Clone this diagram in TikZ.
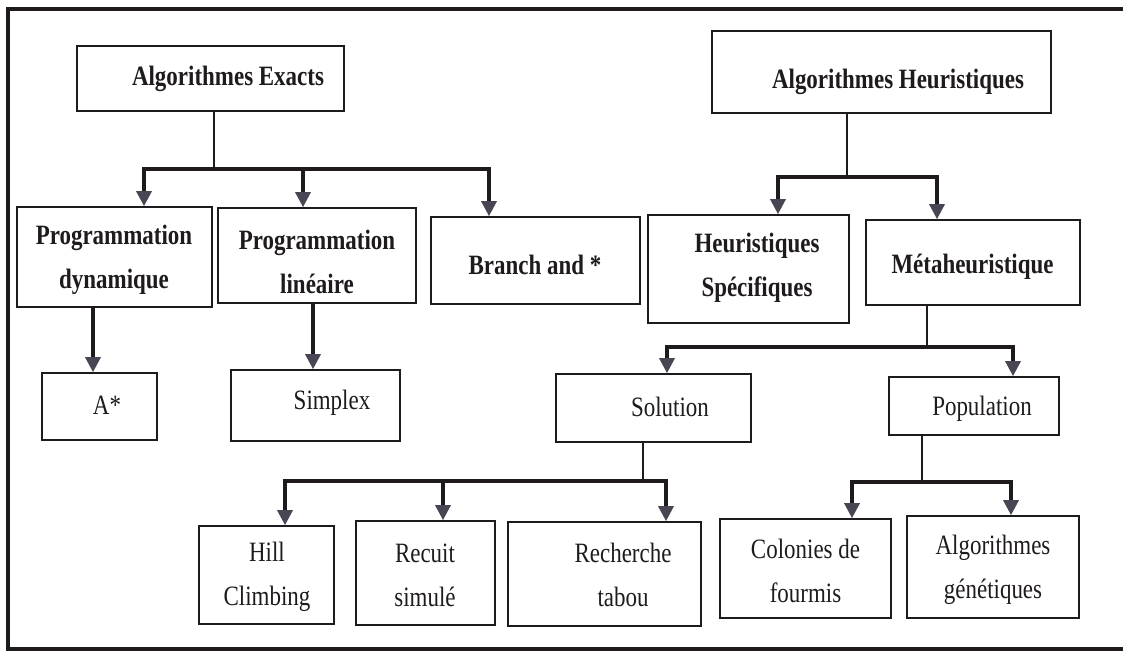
\documentclass[tikz,border=0pt]{standalone}
\usepackage{fontspec}
\setmainfont{Liberation Serif}[FakeStretch=0.82]
\usetikzlibrary{arrows.meta,fit}
\definecolor{ink}{HTML}{1E1A1E}
\definecolor{tipc}{HTML}{4A4552}
\begin{document}
\begin{tikzpicture}[x=0.5pt,y=-0.5pt]
\tikzset{
  box/.style={draw=ink, line width=0.8pt, inner sep=0pt, rectangle},
  lbl/.style={font=\fontsize{14}{22}\selectfont, align=center, inner sep=0pt, text=ink},
  blbl/.style={font=\bfseries\fontsize{14}{22}\selectfont, align=center, inner sep=0pt, text=ink},
  stem/.style={draw=ink, line width=1.3pt},
  arr/.style={draw=ink, line width=1.6pt, line join=miter, -{Triangle[width=7.5pt,length=7.5pt,color=tipc]}},
  frame/.style={draw=ink, line width=1.6pt}
}
\useasboundingbox (0,0) rectangle (1123,651);
% outer frame (open on the right)
\coordinate (fTR) at (1123,9);
\coordinate (fTL) at (8,9);
\coordinate (fBL) at (8,649);
\coordinate (fBR) at (1123,649);
\draw[frame] (fTR) -- (fTL) -- (fBL) -- (fBR);

% boxes
\node[box, fit={(77,46) (344,111)}] (exact) {};
\node[box, fit={(712,31) (1051,113)}] (heur) {};
\node[box, fit={(17,207) (212,307)}] (pdyn) {};
\node[box, fit={(218,208) (416,303)}] (plin) {};
\node[box, fit={(431,217) (640,304)}] (branch) {};
\node[box, fit={(648,215) (849,323)}] (hspec) {};
\node[box, fit={(866,220) (1080,305)}] (meta) {};
\node[box, fit={(42,373) (157,440)}] (astar) {};
\node[box, fit={(231,370) (400,441)}] (simplex) {};
\node[box, fit={(556,374) (751,442)}] (solution) {};
\node[box, fit={(889,377) (1059,435)}] (population) {};
\node[box, fit={(199,526) (334,624)}] (hill) {};
\node[box, fit={(356,521) (495,625)}] (recuit) {};
\node[box, fit={(508,522) (701,626)}] (tabou) {};
\node[box, fit={(720,519) (891,618)}] (colonies) {};
\node[box, fit={(907,516) (1079,618)}] (genet) {};

% labels
\node[blbl] (exact-t) at (228,79) {Algorithmes Exacts};
\node[blbl] (heur-t) at (898,82) {Algorithmes Heuristiques};
\node[blbl] (pdyn-t) at (114,260) {Programmation\\dynamique};
\node[blbl] (plin-t) at (317,261.5) {Programmation\\linéaire};
\node[blbl] (branch-t) at (535,265) {Branch and *};
\node[blbl] (hspec-t) at (757,267.5) {Heuristiques\\Spécifiques};
\node[blbl] (meta-t) at (972.5,267) {Métaheuristique};
\node[lbl] (astar-t) at (107,405) {A*};
\node[lbl] (simplex-t) at (332,403) {Simplex};
\node[lbl] (solution-t) at (670,407) {Solution};
\node[lbl] (population-t) at (982,409) {Population};
\node[lbl] (hill-t) at (267,577) {Hill\\Climbing};
\node[lbl] (recuit-t) at (425,575) {Recuit\\simulé};
\node[lbl] (tabou-t) at (623,575) {Recherche\\tabou};
\node[lbl] (colonies-t) at (805.5,571) {Colonies de\\fourmis};
\node[lbl] (genet-t) at (993,569.5) {Algorithmes\\génétiques};

% connectors: exact algorithms
\coordinate (eJ) at (214,169);
\coordinate (eL) at (144,169);
\coordinate (eM) at (303,169);
\coordinate (eR) at (489,169);
\draw[stem] (exact.south -| eJ) -- (eJ);
\draw[arr] (eJ) -| (pdyn.north -| eL);
\draw[arr] (eM) -- (plin.north -| eM);
\draw[arr] (eJ) -| (branch.north -| eR);

\coordinate (aX) at (93,0);
\coordinate (sX) at (313,0);
\draw[arr] (pdyn.south -| aX) -- (astar.north -| aX);
\draw[arr] (plin.south -| sX) -- (simplex.north -| sX);

% heuristic algorithms
\coordinate (hJ) at (847,177);
\coordinate (hL) at (778,177);
\coordinate (hR) at (937,177);
\draw[stem] (heur.south -| hJ) -- (hJ);
\draw[arr] (hJ) -| (hspec.north -| hL);
\draw[arr] (hJ) -| (meta.north -| hR);

% metaheuristics
\coordinate (mJ) at (927,347);
\coordinate (mL) at (667,347);
\coordinate (mR) at (1013,347);
\draw[stem] (meta.south -| mJ) -- (mJ);
\draw[arr] (mJ) -| (solution.north -| mL);
\draw[arr] (mJ) -| (population.north -| mR);

% single solution
\coordinate (sJ) at (643,481);
\coordinate (sL) at (285,481);
\coordinate (sM) at (443,481);
\coordinate (sR) at (666,481);
\draw[stem] (solution.south -| sJ) -- (sJ);
\draw[arr] (sJ) -| (hill.north -| sL);
\draw[arr] (sM) -- (recuit.north -| sM);
\draw[arr] (sJ) -| (tabou.north -| sR);

% population
\coordinate (pJ) at (922,482);
\coordinate (pL) at (852,482);
\coordinate (pR) at (1011,482);
\draw[stem] (population.south -| pJ) -- (pJ);
\draw[arr] (pJ) -| (colonies.north -| pL);
\draw[arr] (pJ) -| (genet.north -| pR);
\end{tikzpicture}
\end{document}
